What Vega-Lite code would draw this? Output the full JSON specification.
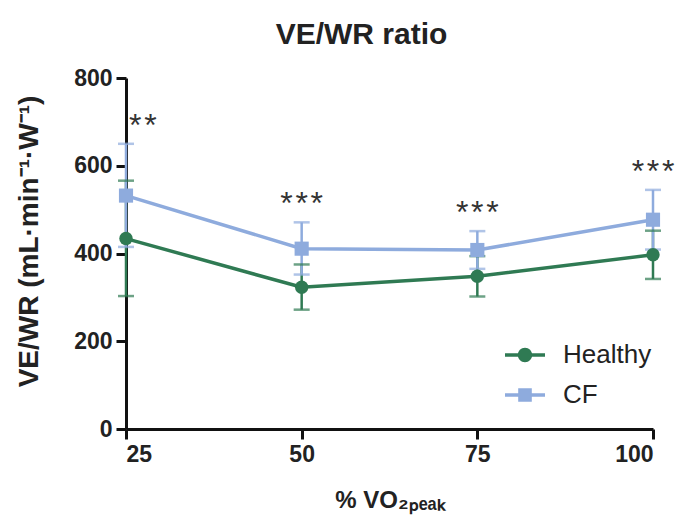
{
  "$schema": "https://vega.github.io/schema/vega-lite/v6.json",
  "width": 527,
  "height": 351,
  "autosize": "none",
  "padding": {"left": 126, "top": 78, "right": 22, "bottom": 91},
  "background": "white",
  "title": {
    "text": "VE/WR ratio",
    "font": "Liberation Sans",
    "fontSize": 30,
    "fontWeight": "bold",
    "color": "#222222",
    "anchor": "middle",
    "frame": "group",
    "baseline": "alphabetic",
    "dx": -28,
    "offset": -7
  },
  "data": {
    "values": [
      {"pct": 25, "group": "Healthy", "mean": 434, "lo": 303, "hi": 566, "sig": ""},
      {"pct": 50, "group": "Healthy", "mean": 323, "lo": 272, "hi": 375, "sig": ""},
      {"pct": 75, "group": "Healthy", "mean": 348, "lo": 302, "hi": 394, "sig": ""},
      {"pct": 100, "group": "Healthy", "mean": 397, "lo": 342, "hi": 452, "sig": ""},
      {"pct": 25, "group": "CF", "mean": 532, "lo": 415, "hi": 650, "sig": "*\u200a*"},
      {"pct": 50, "group": "CF", "mean": 411, "lo": 352, "hi": 471, "sig": "*\u200a*\u200a*"},
      {"pct": 75, "group": "CF", "mean": 408, "lo": 365, "hi": 451, "sig": "*\u200a*\u200a*"},
      {"pct": 100, "group": "CF", "mean": 477, "lo": 409, "hi": 545, "sig": "*\u200a*\u200a*"}
    ]
  },
  "encoding": {
    "x": {
      "field": "pct",
      "type": "quantitative",
      "scale": {"domain": [25, 100], "nice": false, "zero": false},
      "axis": {
        "values": [25, 50, 75, 100],
        "title": "% VO₂ₚₑₐₖ",
        "titleFontSize": 24,
        "titlePadding": 22
      }
    },
    "y": {
      "field": "mean",
      "type": "quantitative",
      "scale": {"domain": [0, 800], "nice": false},
      "axis": {
        "values": [0, 200, 400, 600, 800],
        "title": "VE/WR (mL·min⁻¹·W⁻¹)",
        "titleFontSize": 28,
        "titlePadding": 30,
        "titleY": 163
      }
    }
  },
  "layer": [
    {
      "mark": {"type": "point", "filled": true, "opacity": 0},
      "encoding": {
        "color": {
          "field": "group",
          "type": "nominal",
          "scale": {"domain": ["Healthy", "CF"], "range": ["#2f7a53", "#8eabdd"]},
          "legend": {"title": null}
        },
        "shape": {
          "field": "group",
          "type": "nominal",
          "scale": {
            "domain": ["Healthy", "CF"],
            "range": [
              "M-2,-0.17H2V0.17H-2Z M-0.72,0A0.72,0.72 0 1,1 0.72,0A0.72,0.72 0 1,1 -0.72,0Z",
              "M-2,-0.17H2V0.17H-2Z M-0.68,-0.68H0.68V0.68H-0.68Z"
            ]
          },
          "legend": {"title": null}
        }
      }
    },
    {
      "mark": {"type": "rule", "strokeWidth": 2.5},
      "encoding": {
        "y": {"field": "lo", "type": "quantitative"},
        "y2": {"field": "hi"},
        "color": {"field": "group", "type": "nominal", "legend": null}
      }
    },
    {
      "mark": {"type": "tick", "orient": "horizontal", "size": 16, "thickness": 2.5},
      "encoding": {
        "y": {"field": "lo", "type": "quantitative"},
        "color": {"field": "group", "type": "nominal", "legend": null}
      }
    },
    {
      "mark": {"type": "tick", "orient": "horizontal", "size": 16, "thickness": 2.5},
      "encoding": {
        "y": {"field": "hi", "type": "quantitative"},
        "color": {"field": "group", "type": "nominal", "legend": null}
      }
    },
    {
      "mark": {"type": "line", "strokeWidth": 3.5},
      "encoding": {
        "color": {"field": "group", "type": "nominal", "legend": null},
        "detail": {"field": "group"}
      }
    },
    {
      "transform": [{"filter": "datum.group === 'Healthy'"}],
      "mark": {"type": "point", "shape": "circle", "filled": true, "size": 180, "opacity": 1},
      "encoding": {
        "color": {"field": "group", "type": "nominal", "legend": null}
      }
    },
    {
      "transform": [{"filter": "datum.group === 'CF'"}],
      "mark": {"type": "point", "shape": "square", "filled": true, "size": 200, "opacity": 1},
      "encoding": {
        "color": {"field": "group", "type": "nominal", "legend": null}
      }
    },
    {
      "transform": [{"filter": "datum.group === 'CF' && datum.pct === 25"}],
      "mark": {"type": "text", "align": "left", "baseline": "alphabetic", "dx": 3, "dy": -8, "font": "Liberation Sans", "fontSize": 32, "color": "#333333"},
      "encoding": {
        "y": {"field": "hi", "type": "quantitative"},
        "text": {"field": "sig"}
      }
    },
    {
      "transform": [{"filter": "datum.group === 'CF' && datum.pct > 25"}],
      "mark": {"type": "text", "align": "center", "baseline": "alphabetic", "dy": -8, "font": "Liberation Sans", "fontSize": 32, "color": "#333333"},
      "encoding": {
        "y": {"field": "hi", "type": "quantitative"},
        "text": {"field": "sig"}
      }
    }
  ],
  "config": {
    "view": {"stroke": null},
    "axis": {
      "grid": false,
      "domainColor": "#111111",
      "domainWidth": 3,
      "tickColor": "#111111",
      "tickWidth": 3,
      "tickSize": 10,
      "labelFont": "Liberation Sans",
      "labelFontWeight": "bold",
      "labelFontSize": 23,
      "labelColor": "#222222",
      "labelPadding": 4,
      "titleFont": "Liberation Sans",
      "titleFontWeight": "bold",
      "titleColor": "#222222"
    },
    "legend": {
      "orient": "none",
      "legendX": 386,
      "legendY": 264,
      "symbolSize": 400,
      "symbolOpacity": 1,
      "symbolStrokeWidth": 0,
      "labelFont": "Liberation Sans",
      "labelFontSize": 26,
      "labelColor": "#222222",
      "labelOffset": 25,
      "rowPadding": 14,
      "padding": 0
    }
  }
}
